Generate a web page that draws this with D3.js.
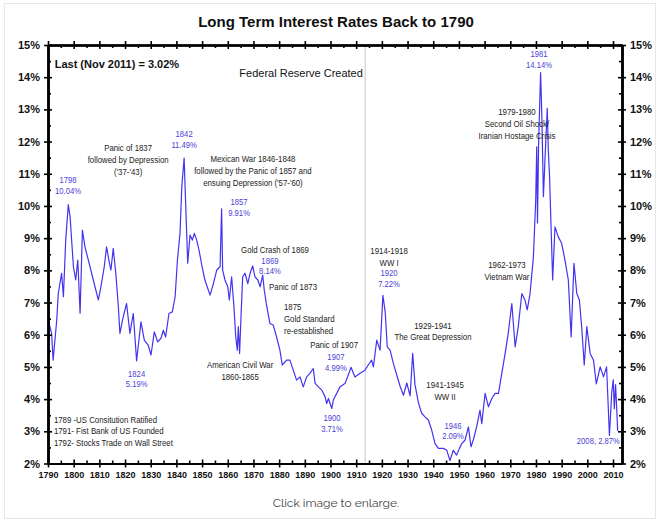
<!DOCTYPE html>
<html>
<head>
<meta charset="utf-8">
<script src="https://cdn.jsdelivr.net/npm/d3@7"></script>
<style>
  html, body { margin: 0; padding: 0; background: #fff; }
  svg { display: block; }
  .ann { font-family: "Liberation Sans", Arial, sans-serif; font-size: 9.8px; fill: #222; }
  .blue { font-family: "Liberation Sans", Arial, sans-serif; font-size: 9.6px; fill: #4b3fd6; }
</style>
</head>
<body>
<svg id="chart" width="660" height="522"></svg>
<script>
// ---------------- DATA ----------------
const years = [1790,1790.6,1791.4,1792,1793.4,1794,1795.3,1796,1796.9,1797.9,1798.6,1799.2,1799.9,1800.8,1801.6,1802.5,1803.4,1804.4,1805.7,1807,1808.3,1809.6,1810.6,1811.9,1812.8,1813.7,1814.5,1815.4,1816.4,1817.4,1818,1819.3,1820.6,1821.9,1823.2,1824.5,1826.2,1827.5,1829,1830.1,1831.4,1832.7,1834,1834.9,1835.8,1837.1,1838.4,1839.5,1840.4,1841.4,1842.1,1843,1843.6,1844.4,1845.3,1846.2,1847,1847.9,1848.8,1849.9,1851.1,1853.1,1854.4,1855.7,1857,1857.6,1858,1858.9,1860,1860.6,1861.5,1862.4,1863.1,1863.7,1864.1,1864.6,1865.2,1865.8,1866.7,1867.8,1868.7,1869.7,1870.6,1871.7,1872.6,1873.6,1874.2,1875.2,1876.4,1877.7,1879,1880.3,1881.2,1882.9,1884.2,1885.5,1886.8,1888.1,1889.4,1890.7,1892,1893.3,1894,1895.3,1896.6,1897.9,1898.5,1899.2,1900.5,1901.1,1903.7,1905.7,1908,1909.5,1911.5,1913.4,1914.7,1916,1916.7,1918,1919.3,1920.4,1921.3,1922.1,1923.2,1924.5,1925.8,1927.1,1928.4,1929.7,1931,1932,1932.9,1934.2,1935.5,1936.8,1938.1,1939.4,1940.7,1942,1943.9,1945.3,1946.5,1947.8,1949.1,1950.2,1951.1,1952.4,1953.7,1954.7,1955.6,1956.9,1958.2,1958.9,1960.2,1961.5,1962.8,1964.1,1965.4,1966.7,1968,1969.2,1970.6,1971.9,1973.1,1974.5,1975.7,1976.6,1977.7,1979,1979.9,1980.3,1980.6,1981,1981.8,1982.3,1982.9,1983.5,1984.4,1984.8,1985.3,1985.8,1986.5,1987.4,1988.7,1990,1991.3,1992.6,1993.7,1994.8,1995.9,1996.9,1997.8,1998.8,1999.8,2001.1,2002.4,2003.5,2005,2006.3,2007.5,2008.6,2009.5,2010.1,2010.5,2011,2011.5,2011.8,2011.9];
const rates = [6.56,6.3,6.04,5.21,6.45,7.28,7.91,7.18,8.94,10.04,9.66,8.94,8.11,7.70,8.32,6.67,9.25,8.73,8.32,7.91,7.49,7.08,7.49,8.11,8.73,8.32,8.01,8.68,7.91,6.87,6.04,6.56,6.97,6.04,6.66,5.19,6.40,5.83,5.68,5.37,6.09,5.78,5.89,6.14,5.93,6.66,6.71,7.18,8.32,9.15,10.60,11.49,10.08,8.22,9.10,8.94,9.15,8.94,8.63,8.15,7.70,7.23,7.59,8.01,8.11,9.91,8.01,7.70,7.49,7.08,7.80,6.87,5.93,5.52,6.25,5.42,6.66,7.80,7.91,7.59,7.91,8.14,7.80,7.70,7.49,7.85,7.39,6.87,6.35,6.30,5.93,5.52,5.06,5.21,5.21,4.90,4.59,4.69,4.38,4.69,4.80,4.95,4.49,4.38,4.28,4.07,3.86,4.02,3.71,3.97,4.38,4.49,4.99,4.69,4.80,4.90,5.06,5.21,5.00,5.83,5.52,7.22,6.70,5.62,5.52,5.10,4.75,4.40,4.12,4.50,4.10,5.42,4.45,3.90,3.56,3.45,3.35,3.04,2.62,2.47,2.47,2.41,2.09,2.41,2.26,2.47,2.62,2.73,3.14,2.52,2.73,3.14,3.66,3.24,4.18,3.76,4.02,4.18,4.18,4.80,5.42,6.04,6.97,5.62,6.25,7.28,7.08,6.77,7.28,8.42,10.18,11.84,9.47,11.84,14.14,12.77,10.29,11.43,13.03,11.74,10.9,9.56,7.70,9.35,9.04,8.84,8.32,7.70,5.93,8.22,7.28,7.08,6.25,5.06,6.25,5.42,5.21,4.47,5.00,4.69,5.00,2.87,4.20,4.60,3.70,4.45,3.60,3.04,3.02];

const xDecades = d3.range(1790, 2011, 10);
const xHalf = d3.range(1795, 2011, 10);
const yMajor = d3.range(2, 16, 1);
const yMinor = d3.range(2.5, 15, 1);
const fedYear = 1913.5;

const title = "Long Term Interest Rates Back to 1790";
const lastNote = "Last (Nov 2011) = 3.02%";
const fedNote = "Federal Reserve Created";
const caption = "Click image to enlarge.";

// blue value labels: [year, rate of first line, anchor, lines]
const blueLabels = [
  [1797.8, 10.81, "middle", ["1798", "10.04%"]],
  [1843.0, 12.24, "middle", ["1842", "11.49%"]],
  [1864.4, 10.12, "middle", ["1857", "9.91%"]],
  [1876.4, 8.31, "middle", ["1869", "8.14%"]],
  [1900.6, 3.41, "middle", ["1900", "3.71%"]],
  [1902.1, 5.31, "middle", ["1907", "4.99%"]],
  [1824.5, 4.80, "middle", ["1824", "5.19%"]],
  [1922.8, 7.92, "middle", ["1920", "7.22%"]],
  [1947.7, 3.19, "middle", ["1946", "2.09%"]],
  [1981.2, 14.72, "middle", ["1981", "14.14%"]],
  [2012.7, 2.70, "end", ["2008, 2.87%"]]
];

// black event notes: [year, rate of first line, anchor, lines]
const eventNotes = [
  [1821.2, 11.80, "middle", ["Panic of 1837", "followed by Depression", "('37-'43)"]],
  [1869.8, 11.46, "middle", ["Mexican War 1846-1848", "followed by the Panic of 1857 and", "ensuing Depression ('57-'60)"]],
  [1878.4, 8.63, "middle", ["Gold Crash of 1869"]],
  [1876.1, 7.51, "start", ["Panic of 1873"]],
  [1881.9, 6.86, "start", ["1875", "Gold Standard", "re-established"]],
  [1864.8, 5.06, "middle", ["American Civil War", "1860-1865"]],
  [1901.4, 5.71, "middle", ["Panic of 1907"]],
  [1922.8, 8.60, "middle", ["1914-1918", "WW I"]],
  [1939.9, 6.30, "middle", ["1929-1941", "The Great Depression"]],
  [1944.6, 4.44, "middle", ["1941-1945", "WW II"]],
  [1968.7, 8.17, "middle", ["1962-1973", "Vietnam War"]],
  [1972.6, 12.92, "middle", ["1979-1980", "Second Oil Shock/", "Iranian Hostage Crisis"]],
  [1792.3, 3.38, "start", ["1789 -US Consitution Ratified", "1791- Fist Bank of US Founded", "1792- Stocks Trade on Wall Street"]]
];

// ---------------- DRAW ----------------
const svg = d3.select("#chart");
svg.append("rect").attr("width", 660).attr("height", 522).attr("fill", "#fff");
svg.append("rect").attr("x", 4.5).attr("y", 3.5).attr("width", 651).attr("height", 515)
  .attr("fill", "none").attr("stroke", "#e8e8e8");

const x = d3.scaleLinear().domain([1790, 2013.5]).range([48, 622]);
const y = d3.scaleLinear().domain([2, 15]).range([463.5, 45]);

svg.append("text").attr("x", 336).attr("y", 27).attr("text-anchor", "middle")
  .style("font-family", "'Liberation Sans', Arial, sans-serif").style("font-weight", "bold")
  .style("font-size", "15px").attr("fill", "#111").text(title);

// Fed line
svg.append("line").attr("x1", x(fedYear)).attr("x2", x(fedYear))
  .attr("y1", y(15)).attr("y2", y(2)).attr("stroke", "#c8c8c8").attr("stroke-width", 1);

// Series
const pts = years.map((yr, i) => [yr, rates[i]]);
svg.append("path").datum(pts)
  .attr("fill", "none").attr("stroke", "#4433ee").attr("stroke-width", 1.2)
  .attr("stroke-linejoin", "round")
  .attr("d", d3.line().x(d => x(d[0])).y(d => y(d[1])));

// Axes
function styleAxis(g) {
  g.selectAll(".domain").attr("stroke", "#000").attr("stroke-width", 2.2);
  g.selectAll(".tick line").attr("stroke", "#000").attr("stroke-width", 1.6);
  g.selectAll("text").style("font-family", "'Liberation Sans', Arial, sans-serif")
    .style("font-weight", "bold").attr("fill", "#111");
}
const axes = [
  {ax: d3.axisBottom, t: `translate(0,${y(2)})`, scale: x, major: xDecades, minor: xHalf, labels: d => d, fs: "9px"},
  {ax: d3.axisTop, t: `translate(0,${y(15)})`, scale: x, major: xDecades, minor: xHalf, labels: null},
  {ax: d3.axisLeft, t: `translate(${x(1790)},0)`, scale: y, major: yMajor, minor: yMinor, labels: d => d + "%", fs: "11px"},
  {ax: d3.axisRight, t: `translate(${x(2013.5)},0)`, scale: y, major: yMajor, minor: yMinor, labels: d => d + "%", fs: "11px"}
];
axes.forEach(a => {
  const gOut = svg.append("g").attr("transform", a.t)
    .call(a.ax(a.scale).tickValues(a.major).tickSize(4).tickSizeOuter(0).tickPadding(4)
      .tickFormat(a.labels ? a.labels : () => ""));
  styleAxis(gOut);
  if (a.fs) gOut.selectAll("text").style("font-size", a.fs);
  const gIn = svg.append("g").attr("transform", a.t)
    .call(a.ax(a.scale).tickValues(a.major).tickSize(-4).tickSizeOuter(0).tickFormat(() => ""));
  styleAxis(gIn);
  const gMin = svg.append("g").attr("transform", a.t)
    .call(a.ax(a.scale).tickValues(a.minor).tickSize(-3).tickSizeOuter(0).tickFormat(() => ""));
  styleAxis(gMin);
});

// Notes
svg.append("text").attr("x", x(1792.6)).attr("y", y(14.4)).attr("dy", "0.35em")
  .style("font-family", "'Liberation Sans', Arial, sans-serif").style("font-weight", "bold")
  .style("font-size", "11px").attr("fill", "#111").text(lastNote);
svg.append("text").attr("x", x(1912.6)).attr("y", y(14.12)).attr("dy", "0.35em")
  .attr("text-anchor", "end")
  .style("font-family", "'Liberation Sans', Arial, sans-serif")
  .style("font-size", "11px").attr("fill", "#111").text(fedNote);

// condensed text block (narrow look via horizontal scale)
function block(cls, yr, r, anchor, lines, lh) {
  const g = svg.append("g")
    .attr("transform", `translate(${x(yr)},${y(r)}) scale(0.8,1)`);
  const t = g.append("text").attr("class", cls).attr("text-anchor", anchor);
  lines.forEach((s, i) => t.append("tspan").attr("x", 0)
    .attr("dy", i === 0 ? "0.35em" : lh).text(s));
}
eventNotes.forEach(([yr, r, anchor, lines]) => block("ann", yr, r, anchor, lines, 11.8));
blueLabels.forEach(([yr, r, anchor, lines]) => block("blue", yr, r, anchor, lines, 10.5));

svg.append("text").attr("x", 336).attr("y", 507).attr("text-anchor", "middle")
  .style("font-family", "Raleway, Lato, 'Open Sans', sans-serif").style("font-size", "12px")
  .attr("fill", "#444").text(caption);
</script>
</body>
</html>
